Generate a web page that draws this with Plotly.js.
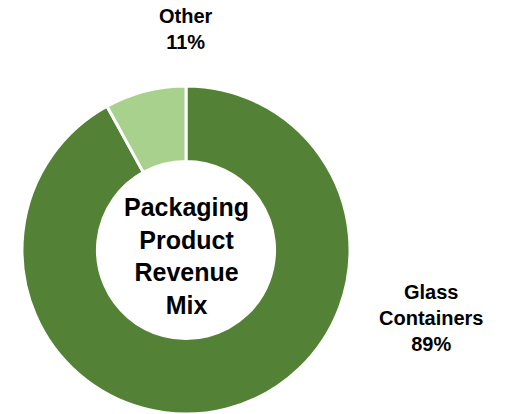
<!DOCTYPE html>
<html>
<head>
<meta charset="utf-8">
<script src="https://cdn.plot.ly/plotly-3.0.1.min.js"></script>
<style>html,body{margin:0;padding:0;background:#fff;}#chart{width:517px;height:414px;}</style>
</head>
<body>
<div id="chart"></div>
<script>
// Data (slice sizes as drawn; label text as printed)
const categories = ["Glass<br>Containers", "Other"];
const sliceValues = [92, 8];
const printedPct = ["89%", "11%"];
const colors = ["#538135", "#A9D18E"];
const centerTitle = "Packaging<br>Product<br>Revenue<br>Mix";

const W = 517, H = 414;
const cx = 186, cy = 250, r = 164;

const trace = {
  type: "pie",
  values: sliceValues,
  labels: categories,
  sort: false,
  direction: "clockwise",
  rotation: 0,
  hole: 0.54,
  textinfo: "none",
  hoverinfo: "none",
  marker: { colors: colors, line: { color: "#ffffff", width: 3 } },
  domain: { x: [(cx - r) / W, (cx + r) / W], y: [(H - cy - r) / H, (H - cy + r) / H] },
  showlegend: false
};

const labelFont = { family: "Liberation Sans, Arial, sans-serif", size: 20, color: "#000" };
const annotations = [
  { text: "<b>" + categories[1] + "<br>" + printedPct[1] + "</b>", x: 186 / W, y: 1 - 29 / H, font: labelFont },
  { text: "<b>" + categories[0] + "<br>" + printedPct[0] + "</b>", x: 431 / W, y: 1 - 318 / H, font: labelFont },
  { text: "<b>" + centerTitle + "</b>", x: cx / W, y: 1 - 256 / H,
    font: { family: "Liberation Sans, Arial, sans-serif", size: 25, color: "#000" } }
].map(a => Object.assign({ xref: "paper", yref: "paper", showarrow: false, xanchor: "center", yanchor: "middle", align: "center" }, a));

Plotly.newPlot("chart", [trace], {
  width: W, height: H,
  margin: { l: 0, r: 0, t: 0, b: 0 },
  paper_bgcolor: "#fff",
  annotations: annotations
}, { staticPlot: true });
</script>
</body>
</html>
